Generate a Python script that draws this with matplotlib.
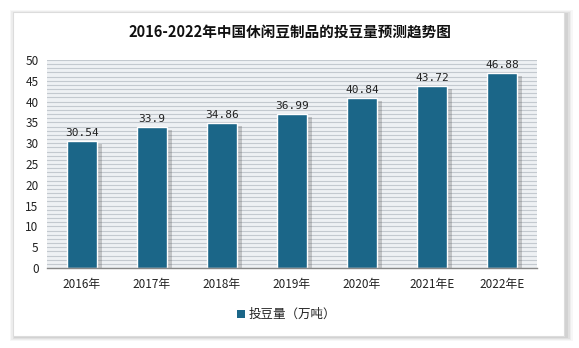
import matplotlib
matplotlib.use("Agg")
import matplotlib.pyplot as plt
import matplotlib.patheffects as pe
from matplotlib.patches import Rectangle

plt.rcParams['font.family'] = ['Noto Sans CJK SC', 'DejaVu Sans']

years = ["2016年", "2017年", "2018年", "2019年", "2020年", "2021年E", "2022年E"]
values = [30.54, 33.9, 34.86, 36.99, 40.84, 43.72, 46.88]
value_labels = ["30.54", "33.9", "34.86", "36.99", "40.84", "43.72", "46.88"]

BAR_COLOR = "#1b6688"

fig = plt.figure(figsize=(5.79, 3.48), dpi=100)
fig.patch.set_facecolor("white")

# card with soft drop shadow
for i, a in enumerate([0.03, 0.04, 0.05, 0.06]):
    d = (4 - i) * 0.0025
    fig.patches.append(Rectangle((0.022 - d + 0.005, 0.035 - d - 0.005), 0.952 + 2 * d, 0.93 + 2 * d,
                                 transform=fig.transFigure, facecolor="black", alpha=a,
                                 edgecolor="none", zorder=0))
fig.patches.append(Rectangle((0.022, 0.035), 0.952, 0.93, transform=fig.transFigure,
                             facecolor="white", edgecolor="#dcdcdc", lw=0.8, zorder=1))

ax = fig.add_axes([47 / 579, 1 - 268 / 348, 490 / 579, 208 / 348])
ax.set_facecolor("#eef1f4")
ax.set_zorder(2)

x = range(len(years))
bars = ax.bar(x, values, width=0.44, color=BAR_COLOR, edgecolor="white", linewidth=1.0, zorder=3,
              path_effects=[pe.SimplePatchShadow(offset=(3, -2), shadow_rgbFace="#555555", alpha=0.28),
                            pe.Normal()])

for xi, v, lab in zip(x, values, value_labels):
    ax.text(xi, v + 0.8, lab, ha="center", va="bottom", fontsize=8, color="#222222",
            family=["DejaVu Sans Mono", "DejaVu Sans"], zorder=4)

for yy in range(0, 51):
    ax.axhline(yy, color="#c3c9cf", lw=0.8, zorder=1)

ax.set_xlim(-0.5, len(years) - 0.5)
ax.set_ylim(0, 50)
ax.set_yticks(range(0, 51, 5))
ax.set_xticks(list(x))
ax.set_xticklabels(years)
ax.tick_params(axis="both", length=0, labelsize=8.5, colors="#222222")
ax.tick_params(axis="x", pad=7)
ax.tick_params(axis="y", pad=6)
for s in ["top", "right", "left"]:
    ax.spines[s].set_visible(False)
ax.spines["bottom"].set_color("#888888")
ax.spines["bottom"].set_linewidth(1.0)
ax.spines["bottom"].set_zorder(5)

fig.text(0.5, 1 - 32 / 348, "2016-2022年中国休闲豆制品的投豆量预测趋势图", ha="center", va="center",
         fontsize=10.5, fontweight="bold", color="#111111", zorder=5)

fig.patches.append(Rectangle((237 / 579, 1 - 318 / 348), 8 / 579, 8 / 348, transform=fig.transFigure,
                             facecolor=BAR_COLOR, edgecolor="none", zorder=5))
fig.text(249 / 579, 1 - 314.5 / 348, "投豆量（万吨）", ha="left", va="center", fontsize=9,
         color="#222222", zorder=5)

fig.savefig("out.png", dpi=100)
